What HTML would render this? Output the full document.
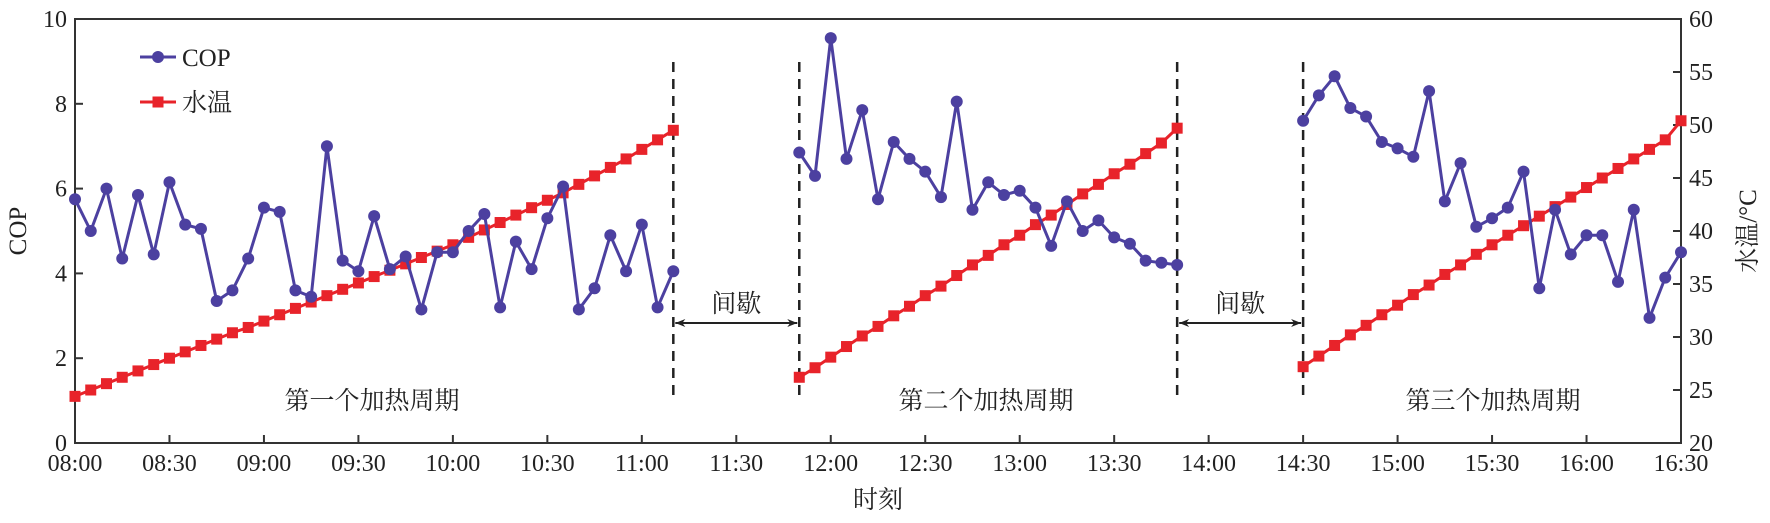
<!DOCTYPE html>
<html><head><meta charset="utf-8"><style>
body{margin:0;background:#fff}
svg text{font-family:"Liberation Serif","Noto Serif CJK SC",serif;fill:#222}
</style></head><body>
<svg id="c" width="1770" height="518" xmlns="http://www.w3.org/2000/svg"></svg>
<script>
const cycleStarts = [0, 230, 390]; // minutes after 08:00
const cop1 = [5.75,5.0,6.0,4.35,5.85,4.45,6.15,5.15,5.05,3.35,3.6,4.35,5.55,5.45,3.6,3.45,7.0,4.3,4.05,5.35,4.1,4.4,3.15,4.5,4.5,5.0,5.4,3.2,4.75,4.1,5.3,6.05,3.15,3.65,4.9,4.05,5.15,3.2,4.05];
const temp1 = [24.4,25.0,25.6,26.2,26.8,27.4,28.0,28.6,29.2,29.8,30.4,30.9,31.5,32.1,32.7,33.3,33.9,34.5,35.1,35.7,36.3,36.9,37.5,38.1,38.7,39.4,40.1,40.8,41.5,42.2,42.9,43.6,44.4,45.2,46.0,46.8,47.7,48.6,49.5];
const cop2 = [6.85,6.3,9.55,6.7,7.85,5.75,7.1,6.7,6.4,5.8,8.05,5.5,6.15,5.85,5.95,5.55,4.65,5.7,5.0,5.25,4.85,4.7,4.3,4.25,4.2];
const temp2 = [26.2,27.1,28.1,29.1,30.1,31.0,32.0,32.9,33.9,34.8,35.8,36.8,37.7,38.7,39.6,40.6,41.5,42.5,43.5,44.4,45.4,46.3,47.3,48.3,49.7];
const cop3 = [7.6,8.2,8.65,7.9,7.7,7.1,6.95,6.75,8.3,5.7,6.6,5.1,5.3,5.55,6.4,3.65,5.5,4.45,4.9,4.9,3.8,5.5,2.95,3.9,4.5];
const temp3 = [27.2,28.2,29.2,30.2,31.1,32.1,33.0,34.0,34.9,35.9,36.8,37.8,38.7,39.6,40.5,41.4,42.3,43.2,44.1,45.0,45.9,46.8,47.7,48.6,50.4];
const xTicks = ["08:00","08:30","09:00","09:30","10:00","10:30","11:00","11:30","12:00","12:30","13:00","13:30","14:00","14:30","15:00","15:30","16:00","16:30"];
const copTicks = [0,2,4,6,8,10];
const tempTicks = [20,25,30,35,40,45,50,55,60];
const cycleLabels = ["第一个加热周期","第二个加热周期","第三个加热周期"];

const L=75,R=1681,T=19,B=443;
const sx=m=>L+m/510*(R-L);
const sy=v=>B-v/10*(B-T);
const st=v=>B-(v-20)/40*(B-T);
const svg=document.getElementById('c');
const NS='http://www.w3.org/2000/svg';
function mk(tag,attrs,parent){const e=document.createElementNS(NS,tag);for(const k in attrs)e.setAttribute(k,attrs[k]);(parent||svg).appendChild(e);return e;}

let f=mk('rect',{x:L,y:T,width:R-L,height:B-T,fill:'none',stroke:'#333','stroke-width':2});



xTicks.forEach((t,i)=>{const x=sx(i*30);
 let l=mk('line',{x1:x,x2:x,y1:B,y2:B-8,stroke:'#333','stroke-width':2});
 
 
 let tx=mk('text',{x:x,y:B+28,'text-anchor':'middle','font-size':24});tx.textContent=t;
 
 
});
copTicks.forEach(v=>{const y=sy(v);
 let l=mk('line',{x1:L,x2:L+8,y1:y,y2:y,stroke:'#333','stroke-width':2});
 
 
 let tx=mk('text',{x:L-8,y:y+8,'text-anchor':'end','font-size':24});tx.textContent=v;
 
 
});
tempTicks.forEach(v=>{const y=st(v);
 let l=mk('line',{x1:R,x2:R-8,y1:y,y2:y,stroke:'#333','stroke-width':2});
 
 
 let tx=mk('text',{x:R+8,y:y+8,'text-anchor':'start','font-size':24});tx.textContent=v;
 
 
});
let xt=mk('text',{x:(L+R)/2,y:508,'text-anchor':'middle','font-size':25});xt.textContent='时刻';


let yl=mk('text',{x:0,y:0,'text-anchor':'middle','font-size':25,transform:`translate(26,${(T+B)/2}) rotate(-90)`});yl.textContent='COP';


let yr=mk('text',{x:0,y:0,'text-anchor':'middle','font-size':25,transform:`translate(1756,${(T+B)/2}) rotate(-90)`});yr.textContent='水温/°C';



const cops=[cop1,cop2,cop3], temps=[temp1,temp2,temp3];
const bounds=[];
cycleStarts.forEach((s,i)=>{bounds.push([s, s+(cops[i].length-1)*5]);});
[bounds[0][1],bounds[1][0],bounds[1][1],bounds[2][0]].forEach(m=>{
 let d=mk('line',{x1:sx(m),x2:sx(m),y1:62,y2:398,stroke:'#222','stroke-width':2.5,'stroke-dasharray':'10,7'});
 
 
});
const defs=mk('defs',{});
const mkr=mk('marker',{id:'ah',viewBox:'0 0 10 10',refX:10,refY:5,markerWidth:14,markerHeight:10,orient:'auto-start-reverse',markerUnits:'userSpaceOnUse'},defs);
mk('path',{d:'M0,1 L10,5 L0,9 L3,5 Z',fill:'#222'},mkr);
[[bounds[0][1],bounds[1][0]],[bounds[1][1],bounds[2][0]]].forEach(g=>{
 const a=sx(g[0])+2,b=sx(g[1])-2;
 let ar=mk('line',{x1:a,x2:b,y1:323,y2:323,stroke:'#222','stroke-width':2,'marker-start':'url(#ah)','marker-end':'url(#ah)'});
 
 
 let t=mk('text',{x:(a+b)/2,y:312,'text-anchor':'middle','font-size':25});t.textContent='间歇';
 
 
});
cycleLabels.forEach((c,i)=>{
 const cx=[372,986,1493][i];
 let t=mk('text',{x:cx,y:409,'text-anchor':'middle','font-size':25});t.textContent=c;
 
 
});

cops.forEach((arr,ci)=>{
 const s=cycleStarts[ci];
 const tp=temps[ci];
 let p1=mk('polyline',{points:tp.map((v,i)=>sx(s+i*5)+','+st(v)).join(' '),fill:'none',stroke:'#e8232a','stroke-width':3});
 
 
 tp.forEach((v,i)=>{let r=mk('rect',{x:sx(s+i*5)-5.5,y:st(v)-5.5,width:11,height:11,fill:'#e8232a'});
  
  });
 let p2=mk('polyline',{points:arr.map((v,i)=>sx(s+i*5)+','+sy(v)).join(' '),fill:'none',stroke:'#4c40a0','stroke-width':3});
 
 
 arr.forEach((v,i)=>{let c=mk('circle',{cx:sx(s+i*5),cy:sy(v),r:6,fill:'#4c40a0'});
  
  });
});

let lg=mk('g',{});


mk('line',{x1:140,x2:176,y1:57,y2:57,stroke:'#4c40a0','stroke-width':3},lg);
mk('circle',{cx:158,cy:57,r:6,fill:'#4c40a0'},lg);
let l1=mk('text',{x:182,y:66,'font-size':25},lg);l1.textContent='COP';
mk('line',{x1:140,x2:176,y1:102,y2:102,stroke:'#e8232a','stroke-width':3},lg);
mk('rect',{x:152.5,y:96.5,width:11,height:11,fill:'#e8232a'},lg);
let l2=mk('text',{x:182,y:111,'font-size':25},lg);l2.textContent='水温';
</script>
</body></html>
